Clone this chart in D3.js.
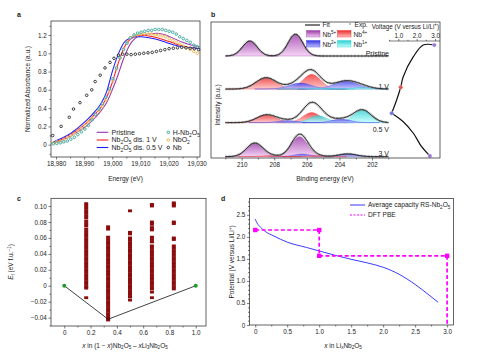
<!DOCTYPE html>
<html><head><meta charset="utf-8">
<script src="https://cdn.jsdelivr.net/npm/d3@7"></script>
<style>
body{margin:0;background:#fff}
svg{display:block}
text{font-family:"Liberation Sans",Arial,Helvetica,sans-serif;fill:#222}
</style>
</head><body>
<svg id="fig" width="486" height="359"></svg>
<script>
// ---------------- Panel a data ----------------
const aTicksX = [18980, 18990, 19000, 19010, 19020, 19030];
const aTicksY = [0, 0.2, 0.4, 0.6, 0.8, 1.0, 1.2];
const aLineE = [18979, 18982, 18985, 18988, 18991, 18994, 18996, 18998, 19000, 19002, 19004, 19006, 19008, 19010, 19013, 19016, 19019, 19022, 19025, 19028, 19031];
const aPristine = [0.02, 0.05, 0.09, 0.15, 0.21, 0.30, 0.37, 0.46, 0.60, 0.76, 0.94, 1.08, 1.16, 1.19, 1.21, 1.22, 1.20, 1.16, 1.12, 1.09, 1.07];
const aDis1V    = [0.025, 0.06, 0.11, 0.17, 0.24, 0.34, 0.41, 0.52, 0.68, 0.88, 1.05, 1.14, 1.18, 1.20, 1.19, 1.17, 1.14, 1.11, 1.08, 1.06, 1.05];
const aDis05V   = [0.03, 0.07, 0.12, 0.19, 0.27, 0.37, 0.45, 0.58, 0.80, 0.98, 1.11, 1.16, 1.18, 1.18, 1.17, 1.15, 1.12, 1.09, 1.07, 1.06, 1.05];
const aCircE = [18979, 18980.25, 18981.5, 18982.75, 18984, 18985.25, 18986.5, 18987.75, 18989, 18990.25, 18991.5, 18992.75, 18994, 18995.25, 18996.5, 18997.75, 18999, 19000.25, 19001.5, 19002.75, 19004, 19005.25, 19006.5, 19007.75, 19009, 19010.25, 19011.5, 19012.75, 19014, 19015.25, 19016.5, 19017.75, 19019, 19020.25, 19021.5, 19022.75, 19024, 19025.25, 19026.5, 19027.75, 19029, 19030.25];
const aHNb2O5 = [0.01, 0.015, 0.02, 0.03, 0.04, 0.06, 0.08, 0.11, 0.14, 0.17, 0.21, 0.27, 0.33, 0.39, 0.45, 0.52, 0.61, 0.72, 0.84, 0.95, 1.04, 1.11, 1.17, 1.20, 1.22, 1.23, 1.24, 1.25, 1.25, 1.26, 1.26, 1.26, 1.25, 1.24, 1.23, 1.21, 1.18, 1.16, 1.14, 1.12, 1.09, 1.07];
const aNbO2 = [0.02, 0.03, 0.04, 0.06, 0.08, 0.10, 0.12, 0.15, 0.18, 0.21, 0.25, 0.29, 0.33, 0.37, 0.42, 0.49, 0.58, 0.70, 0.83, 0.95, 1.05, 1.12, 1.17, 1.19, 1.20, 1.21, 1.21, 1.21, 1.21, 1.20, 1.20, 1.19, 1.18, 1.16, 1.14, 1.12, 1.10, 1.08, 1.06, 1.04, 1.02, 1.00];
const aNbE = [18978.8, 18981.8, 18984.7, 18986.2, 18988.5, 18990.9, 18992.7, 18993.9, 18995.7, 18997.4, 18999.2, 19000.6, 19002.2, 19003.7, 19005.2, 19006.7, 19008.2, 19009.7, 19011.2, 19012.7, 19014.2, 19015.7, 19017.2, 19018.7, 19020.2, 19021.7, 19023.2, 19024.7, 19026.2, 19027.7, 19029.2, 19030.7];
const aNb = [0.10, 0.20, 0.30, 0.39, 0.46, 0.54, 0.60, 0.69, 0.76, 0.84, 0.90, 0.945, 0.98, 0.99, 0.99, 0.985, 0.99, 0.995, 1.0, 1.005, 1.01, 1.02, 1.03, 1.04, 1.05, 1.055, 1.06, 1.065, 1.06, 1.055, 1.05, 1.04];

// ---------------- Panel b data ----------------
const bTicks = [210, 208, 206, 204, 202];
const bMinor = [211, 209, 207, 205, 203, 201];
const bSpectra = ["Pristine", "1 V", "0.5 V", "3 V"];
const bOffsets = [75, 50.7, 26, 1];
// fitted components: [spectrum index, species, centre (eV), height, sigma (eV)]
const bComponents = [
  [0, "Nb5+", 209.5, 11.0, 0.45], [0, "Nb5+", 206.7, 16.0, 0.45],
  [1, "Nb4+", 208.5, 8.3, 0.62], [1, "Nb4+", 205.7, 10.8, 0.55],
  [1, "Nb2+", 206.4, 4.4, 0.7], [1, "Nb2+", 203.6, 5.9, 0.75],
  [1, "Nb1+", 205.4, 0.7, 0.6], [1, "Nb1+", 202.6, 1.1, 0.6],
  [2, "Nb4+", 208.47, 5.7, 0.6], [2, "Nb4+", 205.7, 7.4, 0.55],
  [2, "Nb1+", 205.3, 5.1, 0.55], [2, "Nb1+", 202.6, 9.3, 0.55],
  [2, "Nb2+", 207.2, 1.5, 0.6], [2, "Nb2+", 203.9, 2.5, 0.6],
  [2, null, 205.95, 4.0, 0.5],
  [3, "Nb5+", 209.2, 9.9, 0.5], [3, "Nb5+", 206.45, 14.7, 0.5],
  [3, "Nb2+", 206.3, 1.8, 0.5], [3, "Nb2+", 203.5, 2.0, 0.55],
  [3, "Nb4+", 208.3, 0.7, 0.5], [3, "Nb4+", 205.5, 0.7, 0.5]
];
const bSpecies = ["Nb5+", "Nb4+", "Nb2+", "Nb1+"];
const bColors = {"Nb5+": ["#9a38a8", "#f2c8f2"], "Nb4+": ["#ee2828", "#ffc0c0"], "Nb2+": ["#3434e6", "#c0c0ff"], "Nb1+": ["#2ccfcf", "#c0ffff"]};
const insetTicks = [1.0, 2.0, 3.0];
const insetV = [2.96, 2.36, 1.82, 1.27, 1.13, 0.91, 0.64, 1.27, 1.82, 2.27, 2.72];
const insetY = [83.1, 83.1, 74.5, 59.8, 52, 42.6, 32.9, 26.7, 18.2, 8.3, 1.5];
const insetMarkIdx = [0, 4, 6, 10];
const insetMarkCol = ["#9b7ad8", "#e85050", "#7474e0", "#9b7ad8"];

// ---------------- Panel c data ----------------
const cTicksX = [0, 0.2, 0.4, 0.6, 0.8, 1.0];
const cTicksY = [-0.04, -0.02, 0, 0.02, 0.04, 0.06, 0.08, 0.10];
const cX = [0.1667, 0.3333, 0.5, 0.6667, 0.8333];
const cE = [
  [0.103,0.100,0.097,0.094,0.091,0.088,0.085,0.081,0.078,0.075,0.071,0.068,0.065,0.062,0.059,0.056,0.053,0.050,0.047,0.044,0.041,0.038,0.035,0.032,0.029,0.026,0.023,0.020,0.017,0.014,0.011,0.008,0.005,0.002,-0.001,-0.003,-0.015],
  [0.074,0.071,0.061,0.058,0.055,0.052,0.049,0.046,0.043,0.040,0.037,0.034,0.031,0.028,0.025,0.022,0.019,0.016,0.013,0.010,0.007,0.004,0.001,-0.002,-0.005,-0.008,-0.011,-0.014,-0.017,-0.020,-0.023,-0.026,-0.029,-0.032,-0.035,-0.038,-0.041,-0.043],
  [0.094,0.067,0.065,0.060,0.057,0.054,0.051,0.048,0.045,0.042,0.039,0.036,0.033,0.030,0.027,0.024,0.021,0.018,0.015,0.012,0.009,0.006,0.003,0.000,-0.003,-0.006,-0.009,-0.011,-0.014,-0.018],
  [0.102,0.100,0.080,0.077,0.073,0.070,0.061,0.058,0.055,0.050,0.047,0.044,0.041,0.038,0.035,0.032,0.029,0.026,0.023,0.020,0.017,0.014,0.011,0.008,0.005,0.002,-0.001,-0.004,-0.008,-0.015],
  [0.104,0.102,0.100,0.080,0.078,0.060,0.058,0.050,0.047,0.044,0.041,0.038,0.035,0.032,0.029,0.026,0.023,0.020,0.017,0.014,0.011,0.008,0.005,0.002,-0.001,-0.004]
];
const cHullX = [0, 0.3333, 1.0];
const cHullE = [0, -0.042, 0];

// ---------------- Panel d data ----------------
const dTicksX = [0, 0.5, 1.0, 1.5, 2.0, 2.5, 3.0];
const dTicksY = [0, 0.5, 1.0, 1.5, 2.0, 2.5];
const dAvgX = [0, 0.03, 0.08, 0.16, 0.29, 0.5, 0.8, 1.0, 1.25, 1.5, 1.75, 2.0, 2.25, 2.5, 2.7, 2.86];
const dAvgV = [2.40, 2.31, 2.22, 2.12, 2.02, 1.88, 1.76, 1.68, 1.58, 1.49, 1.41, 1.31, 1.15, 0.92, 0.70, 0.515];
const dDftX = [0, 1, 1, 3, 3];
const dDftV = [2.155, 2.155, 1.57, 1.57, 0];

// ================= drawing =================
const svg = d3.select("#fig");
const FS = 6.3;
const defs = svg.append("defs");

function rich(sel, parts, fs) {
  let shift = 0;
  parts.forEach(p => {
    const t = p[0], m = p[1];
    const ts = sel.append("tspan").text(t);
    let target = 0;
    if (m === "sub") { ts.attr("font-size", fs * 0.7); target = fs * 0.28; }
    else if (m === "sup") { ts.attr("font-size", fs * 0.7); target = -fs * 0.38; }
    else if (m === "i") { ts.attr("font-style", "italic"); }
    if (target !== shift) { ts.attr("dy", target - shift); shift = target; }
  });
  return sel;
}

function styleAxis(g) {
  g.select(".domain").remove();
  g.selectAll(".tick line").attr("stroke", "#222").attr("stroke-width", 0.6);
  g.selectAll(".tick text").attr("font-size", FS).attr("fill", "#222")
    .attr("font-family", "Liberation Sans, Arial, sans-serif");
}
function xAxis(g, x, yPos, ticks, fmt, minor) {
  if (minor) g.append("g").attr("transform", `translate(0,${yPos})`)
    .call(d3.axisBottom(x).tickValues(minor).tickFormat("").tickSize(1.5).tickSizeOuter(0)).call(styleAxis);
  g.append("g").attr("transform", `translate(0,${yPos})`)
    .call(d3.axisBottom(x).tickValues(ticks).tickFormat(fmt).tickSize(2.5).tickPadding(1.8).tickSizeOuter(0)).call(styleAxis);
}
function yAxis(g, y, xPos, ticks, fmt, minor) {
  if (minor) g.append("g").attr("transform", `translate(${xPos},0)`)
    .call(d3.axisLeft(y).tickValues(minor).tickFormat("").tickSize(1.5).tickSizeOuter(0)).call(styleAxis);
  g.append("g").attr("transform", `translate(${xPos},0)`)
    .call(d3.axisLeft(y).tickValues(ticks).tickFormat(fmt).tickSize(2.5).tickPadding(1.8).tickSizeOuter(0)).call(styleAxis);
}
function frame(x, y) {
  const [x0, x1] = x.range(), [y0, y1] = y.range();
  svg.append("rect").attr("x", Math.min(x0, x1)).attr("y", Math.min(y0, y1))
    .attr("width", Math.abs(x1 - x0)).attr("height", Math.abs(y1 - y0))
    .attr("fill", "none").attr("stroke", "#222").attr("stroke-width", 0.7);
}
function panelLabel(t, x, y) {
  svg.append("text").attr("x", x).attr("y", y).attr("font-size", 7).attr("font-weight", "bold").text(t);
}
function yTitle(x, y, parts, fs) {
  rich(svg.append("text").attr("transform", `translate(${x},${y}) rotate(-90)`)
    .attr("text-anchor", "middle").attr("font-size", fs), parts, fs);
}
function xTitle(x, y, parts, fs) {
  rich(svg.append("text").attr("x", x).attr("y", y).attr("text-anchor", "middle").attr("font-size", fs), parts, fs);
}

// ---------- Panel a ----------
{
  const x = d3.scaleLinear().domain([18978.2, 19031.2]).range([51, 200]);
  const y = d3.scaleLinear().domain([-0.135, 1.353]).range([157, 21]);
  const g = svg.append("g");
  const fmt = d3.format(",");
  xAxis(g, x, 157, aTicksX, fmt, [18985, 18995, 19005, 19015, 19025]);
  yAxis(g, y, 51, aTicksY, d => d === 0 ? "0" : d.toFixed(1), [-0.1, 0.1, 0.3, 0.5, 0.7, 0.9, 1.1, 1.3]);
  const line = d3.line().x(d => x(d[0])).y(d => y(d[1])).curve(d3.curveMonotoneX);
  const series = [[aPristine, "#9b30b0"], [aDis1V, "#ff1e1e"], [aDis05V, "#1e1eff"]];
  series.forEach(([v, c]) => {
    g.append("path").datum(aLineE.map((e, i) => [e, v[i]])).attr("d", line)
      .attr("fill", "none").attr("stroke", c).attr("stroke-width", 1.05);
  });
  const circ = [[aCircE, aNbO2, "#eeb040"], [aCircE, aHNb2O5, "#2a9f95"], [aNbE, aNb, "#222"]];
  circ.forEach(([E, v, c]) => {
    g.selectAll(null).data(E.map((e, i) => [e, v[i]])).enter().append("circle")
      .attr("cx", d => x(d[0])).attr("cy", d => y(d[1])).attr("r", 1.3)
      .attr("fill", "#fff").attr("fill-opacity", 0.5).attr("stroke", c).attr("stroke-width", 0.85);
  });
  frame(x, y);
  // legend
  const L = svg.append("g").attr("font-size", 7);
  const rows = [132.3, 140, 147.5];
  const lt = [[["Pristine"]], [["Nb"], ["2", "sub"], ["O"], ["5", "sub"], [" dis. 1 V"]], [["Nb"], ["2", "sub"], ["O"], ["5", "sub"], [" dis. 0.5 V"]]];
  series.forEach(([v, c], i) => {
    L.append("line").attr("x1", 96.7).attr("x2", 108.3).attr("y1", rows[i]).attr("y2", rows[i]).attr("stroke", c).attr("stroke-width", 1.1);
    rich(L.append("text").attr("x", 111.5).attr("y", rows[i] + 2.3), lt[i], 7);
  });
  const ct = [[["H-Nb"], ["2", "sub"], ["O"], ["5", "sub"]], [["NbO"], ["2", "sub"]], [["Nb"]]];
  const cc = ["#2a9f95", "#eeb040", "#222"];
  ct.forEach((t, i) => {
    L.append("circle").attr("cx", 168.3).attr("cy", rows[i]).attr("r", 1.3).attr("fill", "#fff").attr("stroke", cc[i]).attr("stroke-width", 0.85);
    rich(L.append("text").attr("x", 172.7).attr("y", rows[i] + 2.3), t, 7);
  });
  xTitle(125.5, 180.5, [["Energy (eV)"]], 6.5);
  yTitle(29.5, 89, [["Normalized Absorbance (a.u.)"]], 6.5);
  panelLabel("a", 17, 17);
}

// ---------- Panel b ----------
{
  const x = d3.scaleLinear().domain([211.88, 197.83]).range([211, 440]);
  const y = d3.scaleLinear().domain([0, 100]).range([158, 22]);
  const g = svg.append("g");
  xAxis(g, x, 158, bTicks, d3.format("d"), bMinor);
  bSpecies.forEach((s, i) => {
    const gr = defs.append("linearGradient").attr("id", "gr" + i).attr("x1", 0).attr("y1", 0).attr("x2", 0).attr("y2", 1);
    gr.append("stop").attr("offset", "0%").attr("stop-color", bColors[s][0]);
    gr.append("stop").attr("offset", "100%").attr("stop-color", bColors[s][1]);
  });
  const grid = d3.range(201, 211.0001, 0.05);
  const gauss = (e, c, h, s) => h * Math.exp(-((e - c) * (e - c)) / (2 * s * s));
  bSpectra.forEach((name, si) => {
    const off = bOffsets[si];
    const comps = bComponents.filter(c => c[0] === si);
    comps.forEach(c => {
      if (!c[1]) return;
      const k = bSpecies.indexOf(c[1]);
      const area = d3.area().x(e => x(e)).y0(y(off)).y1(e => y(off + gauss(e, c[2], c[3], c[4])));
      const pts = grid.filter(e => Math.abs(e - c[2]) < c[4] * 4);
      g.append("path").datum(pts).attr("d", area)
        .attr("fill", `url(#gr${k})`).attr("fill-opacity", 0.8)
        .attr("stroke", bColors[c[1]][0]).attr("stroke-width", 0.4).attr("stroke-opacity", 0.8);
    });
    const fit = d3.line().x(e => x(e)).y(e => y(off + d3.sum(comps, c => gauss(e, c[2], c[3], c[4]))));
    g.append("path").datum(grid).attr("d", fit).attr("fill", "none")
      .attr("stroke", "#8a8a8a").attr("stroke-width", 2.4).attr("stroke-dasharray", "0.7,0.7");
    g.append("path").datum(grid).attr("d", fit).attr("fill", "none")
      .attr("stroke", "#111").attr("stroke-width", 0.9);
  });
  const lab = [[389, 55.5], [389, 89], [389, 131.5], [389, 155.8]];
  bSpectra.forEach((n, i) => {
    g.append("text").attr("x", lab[i][0]).attr("y", lab[i][1]).attr("text-anchor", "end").attr("font-size", 7).text(n);
  });
  // inset voltage axis
  const vx = d3.scaleLinear().domain([0.5, 3.27]).range([389.1, 440]);
  g.append("line").attr("x1", 389.1).attr("x2", 440).attr("y1", 41).attr("y2", 41).attr("stroke", "#222").attr("stroke-width", 0.6);
  g.append("g").attr("transform", "translate(0,41)")
    .call(d3.axisTop(vx).tickValues([0.5, 1.5, 2.5]).tickFormat("").tickSize(1.2).tickSizeOuter(0)).call(styleAxis);
  g.append("g").attr("transform", "translate(0,41)")
    .call(d3.axisTop(vx).tickValues(insetTicks).tickFormat(d3.format(".1f")).tickSize(2).tickPadding(1.5).tickSizeOuter(0)).call(styleAxis);
  rich(g.append("text").attr("x", 439).attr("y", 28.5).attr("text-anchor", "end").attr("font-size", 6.3),
    [["Voltage (V versus Li/Li"], ["+", "sup"], [")"]], 6.3);
  const ipts = insetV.map((v, i) => [v, insetY[i]]);
  const il = d3.line().x(d => vx(d[0])).y(d => y(d[1])).curve(d3.curveCatmullRom);
  g.append("path").datum(ipts.slice(0, 7)).attr("d", il).attr("fill", "none").attr("stroke", "#111").attr("stroke-width", 1.2);
  g.append("path").datum(ipts.slice(6)).attr("d", il).attr("fill", "none").attr("stroke", "#111").attr("stroke-width", 1.2);
  insetMarkIdx.forEach((k, i) => {
    g.append("circle").attr("cx", vx(insetV[k])).attr("cy", y(insetY[k])).attr("r", 2.1)
      .attr("fill", insetMarkCol[i]).attr("stroke", "#fff").attr("stroke-width", 0.3);
  });
  frame(x, y);
  // legend
  const L = svg.append("g").attr("font-size", 6.6);
  L.append("line").attr("x1", 305).attr("x2", 320).attr("y1", 25).attr("y2", 25).attr("stroke", "#111").attr("stroke-width", 1.1);
  L.append("text").attr("x", 322.5).attr("y", 27.3).text("Fit");
  L.append("circle").attr("cx", 350).attr("cy", 24).attr("r", 0.8).attr("fill", "#777");
  L.append("text").attr("x", 354.5).attr("y", 27.3).text("Exp.");
  const sw = [[306.5, 30.5, 322.5], [337.5, 30.5, 353.5], [306.5, 40.5, 322.5], [337.5, 40.5, 353.5]];
  const sup = ["5+", "4+", "2+", "1+"];
  bSpecies.forEach((s, i) => {
    L.append("rect").attr("x", sw[i][0]).attr("y", sw[i][1]).attr("width", 13.5).attr("height", 6.5)
      .attr("fill", `url(#gr${i})`).attr("stroke", bColors[s][0]).attr("stroke-width", 0.4);
    rich(L.append("text").attr("x", sw[i][2]).attr("y", sw[i][1] + 6), [["Nb"], [sup[i], "sup"]], 6.6);
  });
  xTitle(325, 181, [["Binding energy (eV)"]], 6.5);
  yTitle(220, 105, [["Intensity (a.u.)"]], 6.5);
  panelLabel("b", 211, 17);
}

// ---------- Panel c ----------
{
  const x = d3.scaleLinear().domain([-0.101, 1.078]).range([51, 206]);
  const y = d3.scaleLinear().domain([-0.0505, 0.1097]).range([326, 198.3]);
  const g = svg.append("g");
  const fx = d => d === 0 ? "0" : d.toFixed(1);
  xAxis(g, x, 326, cTicksX, fx, [0.1, 0.3, 0.5, 0.7, 0.9]);
  const fy = d => Math.abs(d) < 1e-9 ? "0" : (d < 0 ? "\u2212" + (-d).toFixed(2) : d.toFixed(2));
  yAxis(g, y, 51, cTicksY, fy, [-0.05, -0.03, -0.01, 0.01, 0.03, 0.05, 0.07, 0.09]);
  cX.forEach((xv, i) => {
    g.selectAll(null).data(cE[i]).enter().append("rect")
      .attr("x", x(xv) - 2).attr("y", d => y(d) - 1.4).attr("width", 4).attr("height", 2.8)
      .attr("fill", "#8a0c0c");
  });
  const hl = d3.line().x(d => x(d[0])).y(d => y(d[1]));
  g.append("path").datum(cHullX.map((v, i) => [v, cHullE[i]])).attr("d", hl)
    .attr("fill", "none").attr("stroke", "#111").attr("stroke-width", 0.8);
  [0, 2].forEach(i => g.append("circle").attr("cx", x(cHullX[i])).attr("cy", y(cHullE[i])).attr("r", 2).attr("fill", "#1f9a2a"));
  frame(x, y);
  xTitle(125, 347.5, [["x", "i"], [" in (1 \u2212 "], ["x", "i"], [")Nb"], ["2", "sub"], ["O"], ["5", "sub"], [" \u2013 "], ["x", "i"], ["Li"], ["3", "sub"], ["Nb"], ["2", "sub"], ["O"], ["5", "sub"]], 6.5);
  yTitle(13, 262, [["E", "i"], ["f", "sub"], [" (eV f.u."], ["\u22121", "sup"], [")"]], 6.5);
  panelLabel("c", 17, 200.5);
}

// ---------- Panel d ----------
{
  const x = d3.scaleLinear().domain([-0.09, 3.1]).range([249.5, 453.5]);
  const y = d3.scaleLinear().domain([0, 2.87]).range([325, 198.5]);
  const g = svg.append("g");
  const f1 = d => d === 0 ? "0" : d.toFixed(1);
  xAxis(g, x, 325, dTicksX, f1, [0.25, 0.75, 1.25, 1.75, 2.25, 2.75]);
  yAxis(g, y, 249.5, dTicksY, f1, [0.1,0.2,0.3,0.4,0.6,0.7,0.8,0.9,1.1,1.2,1.3,1.4,1.6,1.7,1.8,1.9,2.1,2.2,2.3,2.4,2.6,2.7,2.8]);
  const line = d3.line().x(d => x(d[0])).y(d => y(d[1])).curve(d3.curveMonotoneX);
  g.append("path").datum(dAvgX.map((v, i) => [v, dAvgV[i]])).attr("d", line)
    .attr("fill", "none").attr("stroke", "#2222ff").attr("stroke-width", 0.9);
  const sl = d3.line().x(d => x(d[0])).y(d => y(d[1]));
  g.append("path").datum(dDftX.map((v, i) => [v, dDftV[i]])).attr("d", sl)
    .attr("fill", "none").attr("stroke", "#ff00ff").attr("stroke-width", 1.7).attr("stroke-dasharray", "4,2.4");
  g.selectAll(null).data(dDftX.slice(0, 4).map((v, i) => [v, dDftV[i]])).enter().append("rect")
    .attr("x", d => x(d[0]) - 2.2).attr("y", d => y(d[1]) - 2.2).attr("width", 4.4).attr("height", 4.4).attr("fill", "#ff00ff");
  frame(x, y);
  const L = svg.append("g").attr("font-size", 6.6);
  L.append("line").attr("x1", 350).attr("x2", 365).attr("y1", 205).attr("y2", 205).attr("stroke", "#2222ff").attr("stroke-width", 0.9);
  rich(L.append("text").attr("x", 368).attr("y", 207.3), [["Average capacity RS-Nb"], ["2", "sub"], ["O"], ["5", "sub"]], 6.6);
  L.append("line").attr("x1", 350).attr("x2", 365).attr("y1", 215).attr("y2", 215).attr("stroke", "#ff00ff").attr("stroke-width", 1.2).attr("stroke-dasharray", "2,1.5");
  L.append("text").attr("x", 368).attr("y", 217.3).text("DFT PBE");
  xTitle(343, 347.5, [["x", "i"], [" in Li"], ["x", "sub"], ["Nb"], ["2", "sub"], ["O"], ["5", "sub"]], 6.5);
  yTitle(234, 262, [["Potential (V versus Li/Li"], ["+", "sup"], [")"]], 6.5);
  panelLabel("d", 221, 200.5);
}
</script>
</body></html>
